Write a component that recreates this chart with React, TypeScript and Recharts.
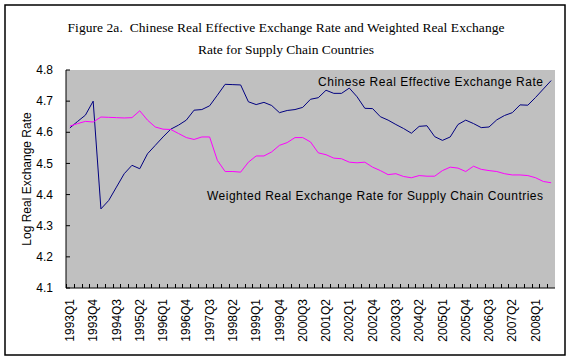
import React from 'react';
import { LineChart, Line, XAxis, YAxis, CartesianGrid } from 'recharts';

const quarters = [
  '1993Q1', '1993Q2', '1993Q3', '1993Q4', '1994Q1', '1994Q2', '1994Q3', '1994Q4',
  '1995Q1', '1995Q2', '1995Q3', '1995Q4', '1996Q1', '1996Q2', '1996Q3', '1996Q4',
  '1997Q1', '1997Q2', '1997Q3', '1997Q4', '1998Q1', '1998Q2', '1998Q3', '1998Q4',
  '1999Q1', '1999Q2', '1999Q3', '1999Q4', '2000Q1', '2000Q2', '2000Q3', '2000Q4',
  '2001Q1', '2001Q2', '2001Q3', '2001Q4', '2002Q1', '2002Q2', '2002Q3', '2002Q4',
  '2003Q1', '2003Q2', '2003Q3', '2003Q4', '2004Q1', '2004Q2', '2004Q3', '2004Q4',
  '2005Q1', '2005Q2', '2005Q3', '2005Q4', '2006Q1', '2006Q2', '2006Q3', '2006Q4',
  '2007Q1', '2007Q2', '2007Q3', '2007Q4', '2008Q1', '2008Q2', '2008Q3',
];

const chineseREER = [
  4.614, 4.635, 4.655, 4.700, 4.354, 4.381, 4.424, 4.467,
  4.494, 4.483, 4.531, 4.558, 4.585, 4.610, 4.623, 4.639,
  4.671, 4.673, 4.685, 4.719, 4.754, 4.753, 4.752, 4.698,
  4.689, 4.696, 4.686, 4.663, 4.670, 4.673, 4.680, 4.706,
  4.711, 4.735, 4.725, 4.725, 4.742, 4.714, 4.677, 4.676,
  4.650, 4.639, 4.625, 4.612, 4.597, 4.619, 4.621, 4.586,
  4.574, 4.585, 4.625, 4.639, 4.628, 4.615, 4.617, 4.640,
  4.654, 4.663, 4.688, 4.687, 4.712, 4.739, 4.766,
];

const weightedRER = [
  4.620, 4.628, 4.635, 4.633, 4.649, 4.648, 4.647, 4.646,
  4.647, 4.669, 4.639, 4.617, 4.610, 4.609, 4.596, 4.583,
  4.577, 4.585, 4.585, 4.510, 4.474, 4.474, 4.472, 4.504,
  4.524, 4.524, 4.537, 4.558, 4.567, 4.583, 4.583, 4.569,
  4.534, 4.528, 4.517, 4.515, 4.504, 4.502, 4.504, 4.488,
  4.477, 4.464, 4.467, 4.458, 4.454, 4.461, 4.459, 4.459,
  4.477, 4.488, 4.485, 4.474, 4.491, 4.481, 4.477, 4.474,
  4.467, 4.463, 4.463, 4.461, 4.454, 4.442, 4.438,
];

const yTicks = [4.1, 4.2, 4.3, 4.4, 4.5, 4.6, 4.7, 4.8];

const titleLines = [
  'Figure 2a.  Chinese Real Effective Exchange Rate and Weighted Real Exchange',
  'Rate for Supply Chain Countries',
];
const yAxisTitle = 'Log Real Exchange Rate';
const chineseLabel = 'Chinese Real Effective Exchange Rate';
const weightedLabel = 'Weighted Real Exchange Rate for Supply Chain Countries';

const data = quarters.map((q, i) => ({ q, cn: chineseREER[i], sc: weightedRER[i] }));

const SANS = '"Liberation Sans", Arial, sans-serif';
const SERIF = '"Liberation Serif", "Times New Roman", serif';
const BAND = 489 / 63;

const XTick = (props: any) => {
  const { x, y, payload, index } = props;
  const half = payload && typeof payload.offset === 'number' && payload.offset > 0 ? payload.offset : BAND / 2;
  const bx = Math.round(x - half) + 0.5;
  return (
    <g>
      <line x1={bx} y1={y} x2={bx} y2={y - 4} stroke="#000" strokeWidth={1} />
      {index % 3 === 0 ? (
        <text
          x={x}
          y={y + 11}
          transform={`rotate(-90, ${x}, ${y + 11})`}
          textAnchor="end"
          dy="0.35em"
          fontFamily={SANS}
          fontSize={12}
          fill="#000"
        >
          {payload.value}
        </text>
      ) : null}
    </g>
  );
};

const YTick = (props: any) => {
  const { x, y, payload } = props;
  return (
    <g>
      <line x1={x} y1={y} x2={x + 4} y2={y} stroke="#000" strokeWidth={1} />
      <text x={x - 13} y={y} dy="0.35em" textAnchor="end" fontFamily={SANS} fontSize={12} fill="#000">
        {Number(payload.value).toFixed(1)}
      </text>
    </g>
  );
};

export default function App() {
  return (
    <div style={{ position: 'absolute', left: 0, top: 0, width: 570, height: 362, background: '#fff' }}>
      <LineChart
        width={570}
        height={362}
        data={data}
        margin={{ top: 70, right: 15, bottom: 14, left: 6 }}
      >
        <CartesianGrid fill="#c0c0c0" horizontal={false} vertical={false} stroke="none" />
        <XAxis
          dataKey="q"
          scale="band"
          interval={0}
          height={60}
          tickSize={0}
          tickMargin={0}
          tickLine={false}
          axisLine={{ stroke: '#000', strokeWidth: 1 }}
          tick={<XTick />}
        />
        <XAxis
          xAxisId="top"
          orientation="top"
          dataKey="q"
          scale="band"
          height={0}
          tick={false}
          tickLine={false}
          axisLine={{ stroke: '#808080', strokeWidth: 1 }}
        />
        <YAxis
          type="number"
          domain={[4.1, 4.8]}
          ticks={yTicks}
          interval={0}
          width={60}
          tickSize={0}
          tickMargin={0}
          tickLine={false}
          axisLine={{ stroke: '#000', strokeWidth: 1 }}
          tick={<YTick />}
        />
        <YAxis
          yAxisId="right"
          orientation="right"
          type="number"
          domain={[4.1, 4.8]}
          width={0}
          tick={false}
          tickLine={false}
          axisLine={{ stroke: '#808080', strokeWidth: 1 }}
        />
        <Line
          type="linear"
          dataKey="cn"
          stroke="#000080"
          strokeWidth={1}
          dot={false}
          activeDot={false}
          isAnimationActive={false}
        />
        <Line
          type="linear"
          dataKey="sc"
          stroke="#ff00ff"
          strokeWidth={1}
          dot={false}
          activeDot={false}
          isAnimationActive={false}
        />
      </LineChart>
      <svg
        width={570}
        height={362}
        style={{ position: 'absolute', left: 0, top: 0, pointerEvents: 'none' }}
      >
        <rect x={5} y={5} width={560} height={350} fill="none" stroke="#000" strokeWidth={1.5} />
        <text
          x={286}
          y={31.5}
          textAnchor="middle"
          fontFamily={SERIF}
          fontSize={13.5}
          fill="#000"
          style={{ whiteSpace: 'pre' }}
          textLength={437}
          lengthAdjust="spacing"
        >
          {titleLines[0]}
        </text>
        <text
          x={286}
          y={53.5}
          textAnchor="middle"
          fontFamily={SERIF}
          fontSize={13.5}
          fill="#000"
          textLength={176}
          lengthAdjust="spacing"
        >
          {titleLines[1]}
        </text>
        <text
          x={27}
          y={179}
          transform="rotate(-90, 27, 179)"
          textAnchor="middle"
          dy="0.35em"
          fontFamily={SANS}
          fontSize={12}
          fill="#000"
        >
          {yAxisTitle}
        </text>
        <text
          x={318}
          y={81.7}
          dy="0.35em"
          fontFamily={SANS}
          fontSize={12}
          fill="#000"
          textLength={225}
          lengthAdjust="spacing"
        >
          {chineseLabel}
        </text>
        <text
          x={207}
          y={196}
          dy="0.35em"
          fontFamily={SANS}
          fontSize={12}
          fill="#000"
          textLength={336}
          lengthAdjust="spacing"
        >
          {weightedLabel}
        </text>
      </svg>
    </div>
  );
}
